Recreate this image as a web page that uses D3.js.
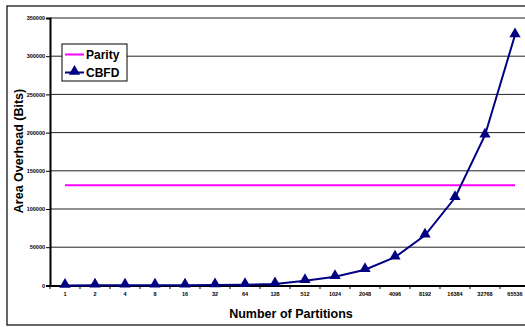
<!DOCTYPE html>
<html><head><meta charset="utf-8">
<script src="https://cdn.jsdelivr.net/npm/d3@7"></script>
<style>body{margin:0;background:#fff}svg{display:block;font-family:"Liberation Sans",Arial,sans-serif}</style>
</head><body>
<script>
const categories = ["1","2","4","8","16","32","64","128","512","1024","2048","4096","8192","16384","32768","65536"];
const parity = [131072,131072,131072,131072,131072,131072,131072,131072,131072,131072,131072,131072,131072,131072,131072,131072];
const cbfd = [21,40,76,144,272,512,960,1792,6144,11264,20480,36864,65536,114688,196608,327680];
const yTicks = [0,50000,100000,150000,200000,250000,300000,350000];

const W=525,H=327;
const svg=d3.select("body").append("svg").attr("width",W).attr("height",H);
svg.append("rect").attr("x",7).attr("y",6).attr("width",530).attr("height",319).attr("fill","#fff").attr("stroke","#000").attr("stroke-width",1.2);

const x=d3.scaleBand().domain(categories).range([50,530]);
const y=d3.scaleLinear().domain([0,350000]).range([285.4,18]);

// gridlines
svg.append("g").selectAll("line").data(yTicks.filter(d=>d>0)).join("line")
  .attr("x1",50).attr("x2",530).attr("y1",d=>y(d)).attr("y2",d=>y(d))
  .attr("stroke","#222").attr("stroke-width",1);

// y axis
const ya=svg.append("g").attr("transform","translate(50,0)")
  .call(d3.axisLeft(y).tickValues(yTicks).tickSize(4).tickFormat(d3.format("d")));
ya.select(".domain").attr("stroke","#000").attr("stroke-width",2);
ya.selectAll("text").attr("font-size",5.5).attr("font-weight","bold").attr("x",-5).attr("font-family","Liberation Sans, Arial");

// x axis
const xa=svg.append("g").attr("transform","translate(0,285.4)")
  .call(d3.axisBottom(x).tickSize(0));
xa.select(".domain").attr("stroke","#000").attr("stroke-width",2);
xa.selectAll("text").attr("font-size",5.5).attr("font-weight","bold").attr("y",7).attr("font-family","Liberation Sans, Arial");
svg.append("g").selectAll("line").data(categories.map((c,i)=>x(c))).join("line")
  .attr("x1",d=>d).attr("x2",d=>d).attr("y1",285.4).attr("y2",289).attr("stroke","#000");

const cx=c=>x(c)+x.bandwidth()/2;
const line=d3.line().x((d,i)=>cx(categories[i])).y(d=>y(d));

svg.append("path").datum(parity).attr("d",line).attr("fill","none").attr("stroke","#ff00ff").attr("stroke-width",2);
svg.append("path").datum(cbfd).attr("d",line).attr("fill","none").attr("stroke","#000080").attr("stroke-width",2);
const tri=d3.symbol().type(d3.symbolTriangle).size(55);
svg.append("g").selectAll("path").data(cbfd).join("path")
  .attr("d",tri).attr("transform",(d,i)=>`translate(${cx(categories[i])},${y(d)-1})`).attr("fill","#000080");

// axis titles
svg.append("text").attr("x",291).attr("y",318).attr("text-anchor","middle").attr("font-size",12.5).attr("font-weight","bold").text("Number of Partitions");
svg.append("text").attr("transform","translate(22.5,151) rotate(-90)").attr("text-anchor","middle").attr("font-size",12.5).attr("font-weight","bold").text("Area Overhead (Bits)");

// legend
const lg=svg.append("g");
lg.append("rect").attr("x",62).attr("y",44).attr("width",65).attr("height",37).attr("fill","#fff").attr("stroke","#000").attr("stroke-width",1);
const items=[{n:"Parity",c:"#ff00ff",m:false},{n:"CBFD",c:"#000080",m:true}];
items.forEach((it,i)=>{
  const yy=54.5+i*18;
  lg.append("line").attr("x1",65).attr("x2",84).attr("y1",yy).attr("y2",yy).attr("stroke",it.c).attr("stroke-width",2);
  if(it.m) lg.append("path").attr("d",tri).attr("transform",`translate(74.5,${yy-1})`).attr("fill",it.c);
  lg.append("text").attr("x",86).attr("y",yy+4.2).attr("font-size",12).attr("font-weight","bold").text(it.n);
});
</script>
</body></html>
